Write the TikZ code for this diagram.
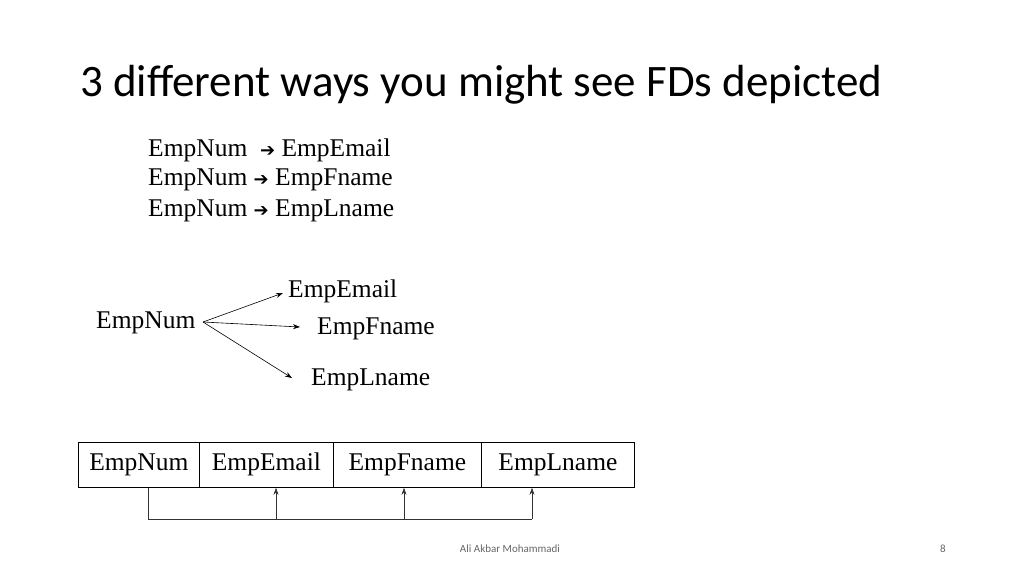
\documentclass[tikz,border=0pt]{standalone}
\usepackage{fontspec}
\setmainfont{Liberation Serif}
\newfontfamily\titlefont{Carlito}
\newfontfamily\symfont{DejaVu Sans}
\usetikzlibrary{arrows.meta}
\newcommand{\fdarrow}{{\symfont\fontsize{18}{22}\selectfont ➔}}
\begin{document}
\begin{tikzpicture}[x=1pt,y=-1pt,
  txt/.style={inner sep=0pt,font=\fontsize{25.5}{30}\selectfont},
  cell/.style={draw,line width=0.8pt,minimum height=45pt,inner sep=0pt,text height=17pt,text depth=5pt,font=\fontsize{25.5}{30}\selectfont},
  arr/.style={-{Stealth[length=7pt,width=5pt]},line width=0.6pt},
  link/.style={line width=0.7pt,draw=black!80}]
\useasboundingbox (0,0) rectangle (1024,576);
\node[anchor=west,inner sep=0pt,font=\titlefont\fontsize{45}{52}\selectfont] (title) at (80,85) {3 different ways you might see FDs depicted};
\node[txt,anchor=west] (l1) at (148,150) {EmpNum \ \fdarrow\ EmpEmail};
\node[txt,anchor=west] (l2) at (148,180) {EmpNum \fdarrow\ EmpFname};
\node[txt,anchor=west] (l3) at (148,211) {EmpNum \fdarrow\ EmpLname};
\node[txt,anchor=west] (fn) at (96,323) {EmpNum};
\node[txt,anchor=west] (fe) at (288,291) {EmpEmail};
\node[txt,anchor=west] (ff) at (317,329) {EmpFname};
\node[txt,anchor=west] (fl) at (311,380) {EmpLname};
\coordinate (o) at (203,322);
\coordinate (te) at (283,293);
\coordinate (tf) at (300,327);
\coordinate (tl) at (292,378);
\draw[arr] (o) -- (te);
\draw[arr] (o) -- (tf);
\draw[arr] (o) -- (tl);
\node[cell,anchor=north west,minimum width=121pt] (c1) at (78,442) {EmpNum};
\node[cell,anchor=north west,minimum width=134pt] (c2) at (199,442) {EmpEmail};
\node[cell,anchor=north west,minimum width=148pt] (c3) at (333,442) {EmpFname};
\node[cell,anchor=north west,minimum width=153pt] (c4) at (481,442) {EmpLname};
\coordinate (b1) at (148,519);
\coordinate (b2) at (276,519);
\coordinate (b3) at (404,519);
\coordinate (b4) at (532,519);
\draw[link] (c1.south -| b1) -- (b1) -- (b4);
\draw[link,arr] (b2) -- (b2 |- c2.south);
\draw[link,arr] (b3) -- (b3 |- c3.south);
\draw[link,arr] (b4) -- (b4 |- c4.south);
\node[font=\titlefont\fontsize{11}{13}\selectfont,text=black!60] (ft) at (510,549) {Ali Akbar Mohammadi};
\node[font=\titlefont\fontsize{11}{13}\selectfont,text=black!60] (pg) at (943,549) {8};
\end{tikzpicture}
\end{document}
